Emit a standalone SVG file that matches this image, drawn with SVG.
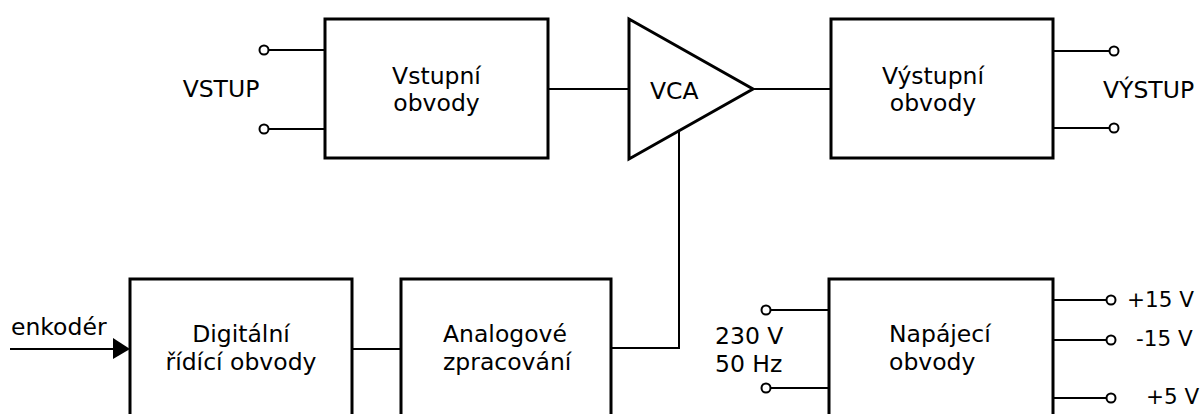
<svg xmlns="http://www.w3.org/2000/svg" width="1203" height="414" viewBox="0 0 1203 414">
<style>
.box{fill:#fff;stroke:#000;stroke-width:3}
.w{fill:none;stroke:#000;stroke-width:2}
.t{fill:#fff;stroke:#000;stroke-width:2}
text{font-family:"DejaVu Sans",Verdana,sans-serif;font-size:23.5px;fill:#000}
.m{text-anchor:middle}
.s{font-size:21.5px}
</style>
<rect width="1203" height="414" fill="#fff"/>
<g id="connectors">
<line class="w" x1="269" y1="50" x2="325" y2="50"/>
<line class="w" x1="269" y1="129" x2="325" y2="129"/>
<line class="w" x1="548" y1="89" x2="629" y2="89"/>
<line class="w" x1="753" y1="89" x2="831" y2="89"/>
<line class="w" x1="1053" y1="51" x2="1109" y2="51"/>
<line class="w" x1="1053" y1="128" x2="1109" y2="128"/>
<polyline class="w" points="679,131 679,348 611,348"/>
<line class="w" x1="352" y1="349" x2="400" y2="349"/>
<line class="w" x1="10" y1="349" x2="118" y2="349"/>
<polygon points="113,338 130,349 113,359" fill="#000"/>
<line class="w" x1="771" y1="310" x2="829" y2="310"/>
<line class="w" x1="771" y1="388" x2="829" y2="388"/>
<line class="w" x1="1053" y1="300" x2="1106" y2="300"/>
<line class="w" x1="1053" y1="340" x2="1106" y2="340"/>
<line class="w" x1="1053" y1="398" x2="1106" y2="398"/>
<circle class="t" cx="264" cy="50" r="4.5"/>
<circle class="t" cx="264" cy="129" r="4.5"/>
<circle class="t" cx="1114" cy="51" r="4.5"/>
<circle class="t" cx="1114" cy="128" r="4.5"/>
<circle class="t" cx="766" cy="310" r="4.5"/>
<circle class="t" cx="766" cy="388" r="4.5"/>
<circle class="t" cx="1111" cy="300" r="4.5"/>
<circle class="t" cx="1111" cy="340" r="4.5"/>
<circle class="t" cx="1111" cy="398" r="4.5"/>
</g>
<g id="vstup">
<text class="m" x="221" y="97">VSTUP</text>
</g>
<g id="vstupni">
<rect class="box" x="325" y="19" width="223" height="139"/>
<text class="m" x="436.5" y="84">Vstupní</text>
<text class="m" x="436.5" y="111">obvody</text>
</g>
<g id="vca">
<polygon class="box" points="629,19 629,159 753,89" style="stroke-linejoin:miter"/>
<text x="650" y="99">VCA</text>
</g>
<g id="vystupni">
<rect class="box" x="831" y="19" width="222" height="139"/>
<text class="m" x="933" y="84">Výstupní</text>
<text class="m" x="933" y="111">obvody</text>
</g>
<g id="vystup">
<text x="1103" y="98">VÝSTUP</text>
</g>
<g id="enkoder">
<text x="11" y="335">enkodér</text>
</g>
<g id="digitalni">
<rect class="box" x="130" y="279" width="222" height="150"/>
<text class="m" x="241" y="342">Digitální</text>
<text class="m" x="241" y="370">řídící obvody</text>
</g>
<g id="analogove">
<rect class="box" x="401" y="279" width="210" height="150"/>
<text x="443" y="342">Analogové</text>
<text x="443" y="370">zpracování</text>
</g>
<g id="sit">
<text x="715" y="344">230 V</text>
<text x="715" y="372">50 Hz</text>
</g>
<g id="napajeci">
<rect class="box" x="829" y="279" width="224" height="150"/>
<text x="889" y="342">Napájecí</text>
<text x="889" y="370">obvody</text>
</g>
<g id="vystupy">
<text class="s" x="1127" y="307">+15 V</text>
<text class="s" x="1136" y="346">-15 V</text>
<text class="s" x="1146" y="404">+5 V</text>
</g>
</svg>
